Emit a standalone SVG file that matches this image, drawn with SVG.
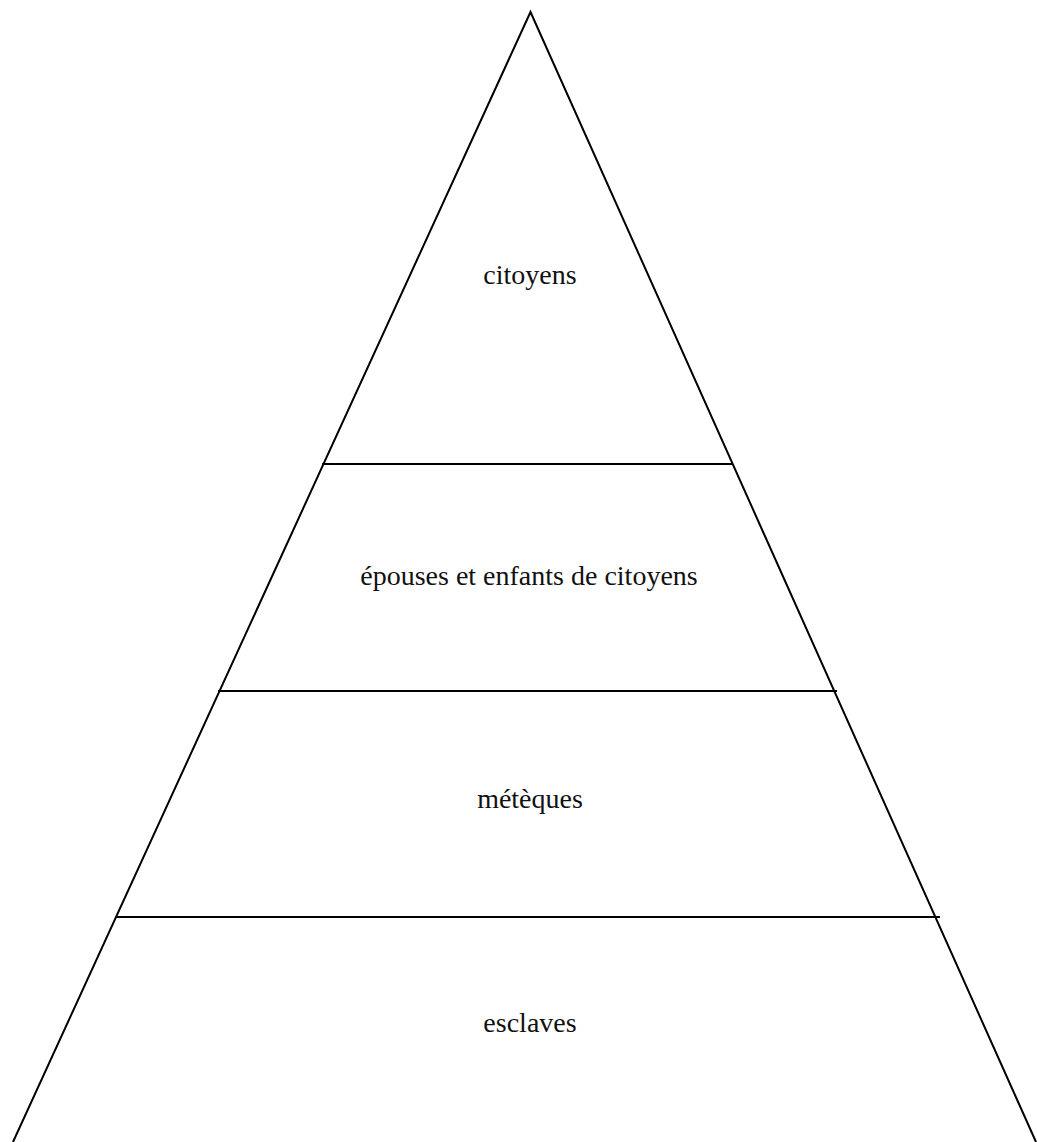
<svg xmlns="http://www.w3.org/2000/svg" width="1037" height="1142" viewBox="0 0 1037 1142">
<style>
.ln{stroke:#000;stroke-width:2;fill:none}
.lbl{font-family:"Liberation Serif","DejaVu Serif",serif;font-size:28px;fill:#111;text-anchor:middle}
</style>
<rect width="1037" height="1142" fill="#fff"/>
<g id="connectors">
<polyline class="ln" points="13,1142 530.5,12 1036,1142"/>
<line class="ln" x1="322" y1="464" x2="733" y2="464"/>
<line class="ln" x1="218" y1="691" x2="837" y2="691"/>
<line class="ln" x1="116" y1="917" x2="940" y2="917"/>
</g>
<g id="citoyens"><text class="lbl" x="530" y="284">citoyens</text></g>
<g id="epouses"><text class="lbl" x="529" y="585">épouses et enfants de citoyens</text></g>
<g id="meteques"><text class="lbl" x="530" y="808">métèques</text></g>
<g id="esclaves"><text class="lbl" x="530" y="1032">esclaves</text></g>
</svg>
